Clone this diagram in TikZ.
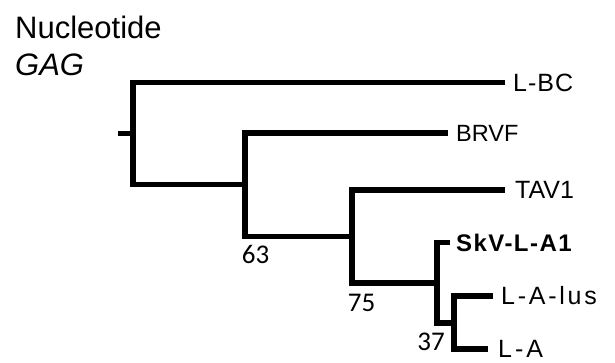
\documentclass[tikz,border=0pt]{standalone}
\usepackage{fontspec}
\setmainfont{Liberation Sans}
\newfontfamily\numfont{Carlito}
\begin{document}
\begin{tikzpicture}[x=1pt,y=-1pt,
  branch/.style={line width=5.5pt,line join=miter,line cap=butt},
  leaf/.style={anchor=west,inner sep=0pt,font=\fontsize{25}{25}\selectfont},
  support/.style={inner sep=0pt,font=\numfont\fontsize{27}{27}\selectfont},
  title/.style={anchor=base west,inner sep=0pt,font=\fontsize{31}{31}\selectfont}]
\useasboundingbox (0,0) rectangle (615,362);
% internal nodes
\coordinate (stub) at (118,133.6);
\coordinate (root) at (133,133.6);
\coordinate (n63) at (245,184.7);
\coordinate (n75) at (352,236.4);
\coordinate (nB) at (437,282.75);
\coordinate (nA) at (454,323);
% leaf ends
\coordinate (eLBC) at (505,82.5);
\coordinate (eBRVF) at (448,133);
\coordinate (eTAV) at (505,190);
\coordinate (eSkV) at (450,242.5);
\coordinate (eLlus) at (493,296);
\coordinate (eLA) at (488,349);
% branches
\draw[branch] (stub) -- (root);
\draw[branch] (eLBC) -| (root) |- (n63);
\draw[branch] (eBRVF) -| (n63) |- (n75);
\draw[branch] (eTAV) -| (n75) |- (nB);
\draw[branch] (eSkV) -| (nB) |- (nA);
\draw[branch] (eLlus) -| (nA) |- (eLA);
% leaf labels
\node[leaf,font=\addfontfeature{LetterSpace=4}\fontsize{25}{25}\selectfont] (LBC) at ([xshift=8]eLBC) {L-BC};
\node[leaf,font=\fontsize{23.5}{23.5}\selectfont] (BRVF) at ([xshift=8]eBRVF) {BRVF};
\node[leaf] (TAV) at ([xshift=10]eTAV) {TAV1};
\node[leaf,font=\bfseries\addfontfeature{LetterSpace=6}\fontsize{24}{24}\selectfont] (SkV) at ([xshift=6]eSkV) {SkV-L-A1};
\node[leaf,font=\addfontfeature{LetterSpace=11}\fontsize{25}{25}\selectfont] (Llus) at ([xshift=8]eLlus) {L-A-lus};
\node[leaf,font=\addfontfeature{LetterSpace=12}\fontsize{25}{25}\selectfont] (LA) at ([xshift=10]eLA) {L-A};
% support values
\node[support] (s63) at (255.5,254) {63};
\node[support] (s75) at (361.5,303) {75};
\node[support] (s37) at (431,342) {37};
% title
\node[title] (t1) at (15,38) {Nucleotide};
\node[title,font=\itshape\fontsize{31}{31}\selectfont] (t2) at (15,75) {GAG};
\end{tikzpicture}
\end{document}
